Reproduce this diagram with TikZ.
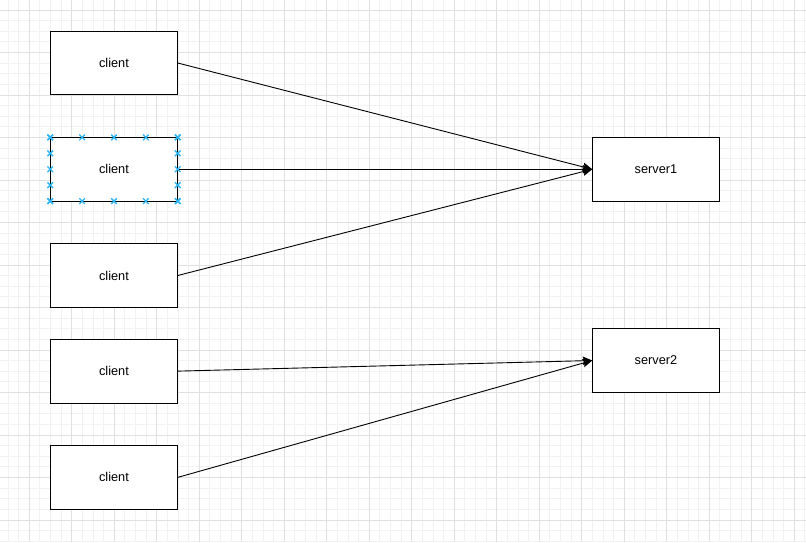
\documentclass[tikz,border=0pt]{standalone}
\usepackage{fontspec}
\setmainfont{Liberation Sans}
\usetikzlibrary{arrows.meta,positioning}
\definecolor{gridminor}{HTML}{F2F2F2}
\definecolor{gridmajor}{HTML}{E0E0E0}
\definecolor{handleblue}{HTML}{29B6F2}

\begin{document}
\begin{tikzpicture}[
  x=1pt,y=-1pt,
  font=\fontsize{12.75}{15}\selectfont,
  box/.style={draw,line width=1pt,fill=white,minimum width=127.5pt,minimum height=63.75pt,inner sep=0pt,outer sep=0pt},
  link/.style={-{Stealth[length=9.5pt,width=8.5pt,inset=1.5pt]},line width=0.9pt},
  handle/.pic={\draw[handleblue,line width=1.4pt] (-2.8pt,-2.8pt) -- (2.8pt,2.8pt) (-2.8pt,2.8pt) -- (2.8pt,-2.8pt);},
  node distance=42.5pt,
]
\useasboundingbox[fill=white] (0,0) rectangle (806,542);
% grid
\foreach \g in {0,...,75}
  \draw[gridminor,line width=1pt] ({8.05+10.625*\g},0) -- ++(0,542);
\foreach \g in {0,...,50}
  \draw[gridminor,line width=1pt] (0,{10+10.625*\g}) -- ++(806,0);
\foreach \g in {0,...,18}
  \draw[gridmajor,line width=1pt] ({29.3+42.5*\g},0) -- ++(0,542);
\foreach \g in {0,...,12}
  \draw[gridmajor,line width=1pt] (0,{10+42.5*\g}) -- ++(806,0);

\node[box] (client1) at (114,63) {client};
\node[box,below=of client1] (client2) {client};
\node[box,below=of client2] (client3) {client};
\node[box,below=31.875pt of client3] (client4) {client};
\node[box,below=of client4] (client5) {client};
\node[box,right=414.5pt of client2] (server1) {server1};
\node[box,below=127.5pt of server1] (server2) {server2};

\draw[link] (client1.east) -- (server1.west);
\draw[link] (client2.east) -- (server1.west);
\draw[link] (client3.east) -- (server1.west);
\draw[link] (client4.east) -- (server2.west);
\draw[link] (client5.east) -- (server2.west);

% selection marks
\foreach \i in {0,...,4} {
  \path (client2.north west) ++(\i*31.875pt,0pt) pic {handle};
  \path (client2.south west) ++(\i*31.875pt,0pt) pic {handle};
  \path (client2.north west) ++(0pt,-\i*15.9375pt) pic {handle};
  \path (client2.north east) ++(0pt,-\i*15.9375pt) pic {handle};
}
\end{tikzpicture}
\end{document}
